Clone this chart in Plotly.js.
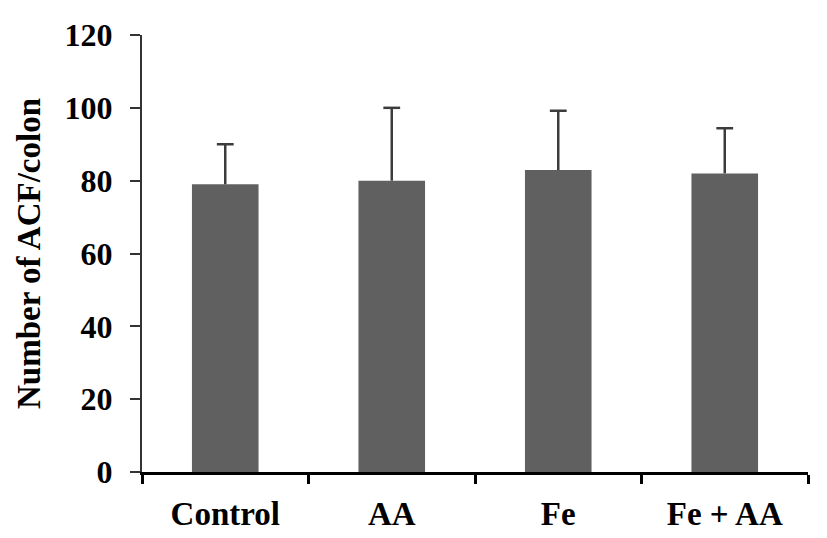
<!DOCTYPE html>
<html>
<head>
<meta charset="utf-8">
<script src="https://cdn.plot.ly/plotly-3.0.1.min.js"></script>
<style>
  html, body { margin: 0; padding: 0; background: #fff; }
  #chart { width: 827px; height: 538px; }
</style>
</head>
<body>
<div id="chart"></div>
<script>
// Groups and values
const groups = ['Control', 'AA', 'Fe', 'Fe + AA'];
const acfMean = [79, 80, 82.9, 82];
const acfErr = [11, 20, 16.3, 12.4];
const noErr = [0, 0, 0, 0];
const yTicks = [0, 20, 40, 60, 80, 100, 120];

const serif = 'Liberation Serif, Times New Roman, serif';
const errColor = '#3c3c3c';

// bars with the upper error stem only (no caps, so nothing sits on the bar top)
const bars = {
    x: groups,
    y: acfMean,
    type: 'bar',
    width: 0.4,
    marker: { color: '#606060', line: { width: 0 } },
    error_y: {
        type: 'data',
        array: acfErr,
        arrayminus: noErr,
        symmetric: false,
        color: errColor,
        thickness: 2.5,
        width: 0
    },
    hoverinfo: 'none'
};

// cap on top of each error stem
const caps = {
    x: groups,
    y: acfMean.map((v, i) => v + acfErr[i]),
    type: 'scatter',
    mode: 'markers',
    marker: { symbol: 'line-ew', size: 12, line: { width: 2.5, color: errColor } },
    hoverinfo: 'none'
};

const layout = {
    width: 827,
    height: 538,
    margin: { t: 35, r: 19, b: 66, l: 142 },
    paper_bgcolor: '#fff',
    plot_bgcolor: '#fff',
    showlegend: false,
    font: { family: serif, color: '#000', weight: 'bold' },
    xaxis: {
        type: 'category',
        range: [-0.5, 3.5],
        showline: true,
        linecolor: '#000',
        linewidth: 3,
        ticks: 'outside',
        tickson: 'boundaries',
        ticklen: 9,
        tickwidth: 3,
        tickcolor: '#000',
        ticklabelstandoff: 10,
        showgrid: false,
        zeroline: false,
        tickfont: { family: serif, size: 33, color: '#000', weight: 'bold' }
    },
    yaxis: {
        range: [0, 120],
        tickvals: yTicks,
        ticktext: yTicks.map(String),
        showline: true,
        linecolor: '#333',
        linewidth: 2,
        ticks: 'outside',
        ticklen: 10,
        tickwidth: 2,
        tickcolor: '#333',
        ticklabelstandoff: 11,
        showgrid: false,
        zeroline: false,
        tickfont: { family: serif, size: 32, color: '#000', weight: 'bold' },
        title: {
            text: 'Number of ACF/colon',
            font: { family: serif, size: 33, color: '#000', weight: 'bold' },
            standoff: 14
        }
    }
};

Plotly.newPlot('chart', [bars, caps], layout, { displayModeBar: false, staticPlot: true });
</script>
</body>
</html>
